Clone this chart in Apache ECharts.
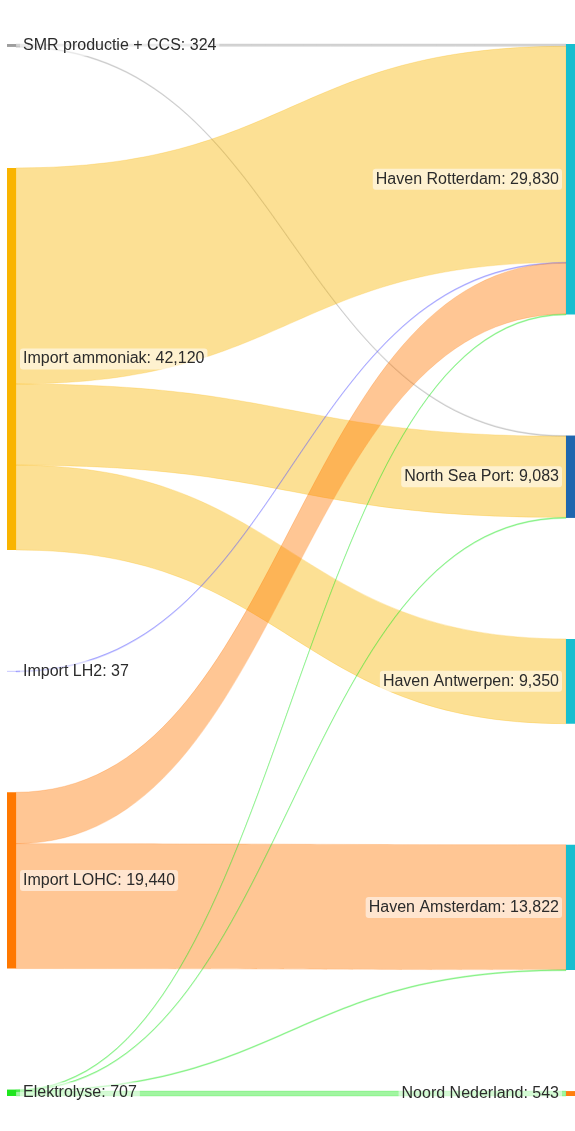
<!DOCTYPE html>
<html>
<head>
<meta charset="utf-8">
<script src="https://cdn.jsdelivr.net/npm/echarts@6/dist/echarts.min.js"></script>
<style>
html,body{margin:0;padding:0;background:#fff;}
#chart{width:575px;height:1131px;}
</style>
</head>
<body>
<div id="chart"></div>
<script>
var sourceNodes = ['SMR productie + CCS', 'Import ammoniak', 'Import LH2', 'Import LOHC', 'Elektrolyse'];
var sourceColors = ['#9e9e9e', '#f9b400', '#5a5aff', '#ff7800', '#1ee61e'];
var targetNodes = ['Haven Rotterdam', 'North Sea Port', 'Haven Antwerpen', 'Haven Amsterdam', 'Noord Nederland'];
var targetColors = ['#17becf', '#1f66ae', '#17becf', '#17becf', '#ff7f0e'];

var linkSource = ['SMR productie + CCS', 'SMR productie + CCS',
  'Import ammoniak', 'Import ammoniak', 'Import ammoniak',
  'Import LH2',
  'Import LOHC', 'Import LOHC',
  'Elektrolyse', 'Elektrolyse', 'Elektrolyse', 'Elektrolyse'];
var linkTarget = ['Haven Rotterdam', 'North Sea Port',
  'Haven Rotterdam', 'North Sea Port', 'Haven Antwerpen',
  'Haven Rotterdam',
  'Haven Rotterdam', 'Haven Amsterdam',
  'Haven Rotterdam', 'North Sea Port', 'Haven Amsterdam', 'Noord Nederland'];
var linkValue = [250, 74,
  23821, 8949, 9350,
  37,
  5662, 13778,
  60, 60, 44, 543];

var nodes = [];
sourceNodes.forEach(function (n, i) {
  nodes.push({ name: n, itemStyle: { color: sourceColors[i] } });
});
targetNodes.forEach(function (n, i) {
  nodes.push({ name: n, itemStyle: { color: targetColors[i] } });
});
var links = linkSource.map(function (s, i) {
  var c = sourceColors[sourceNodes.indexOf(s)];
  return {
    source: s, target: linkTarget[i], value: linkValue[i],
    lineStyle: { borderColor: c, borderWidth: 0.55 }
  };
});

var chart = echarts.init(document.getElementById('chart'), null, { renderer: 'canvas' });
chart.setOption({
  animation: false,
  series: [{
    type: 'sankey',
    left: 7,
    right: 0,
    top: 44,
    bottom: 35,
    nodeWidth: 9,
    nodeGap: 121,
    layoutIterations: 0,
    draggable: false,
    data: nodes,
    links: links,
    itemStyle: { borderWidth: 0 },
    lineStyle: { color: 'source', opacity: 0.42, curveness: 0.5 },
    label: {
      fontFamily: 'Liberation Sans, Arial, sans-serif',
      fontSize: 16,
      color: '#2b2b2b',
      backgroundColor: 'rgba(255,255,255,0.55)',
      borderRadius: 3,
      padding: [3, 3, 2, 3],
      distance: 4,
      formatter: function (p) {
        return p.name + ': ' + Number(p.value).toLocaleString('en-US');
      }
    },
    levels: [
      { depth: 0, label: { position: 'right' } },
      { depth: 1, label: { position: 'left' } }
    ]
  }]
});
</script>
</body>
</html>
